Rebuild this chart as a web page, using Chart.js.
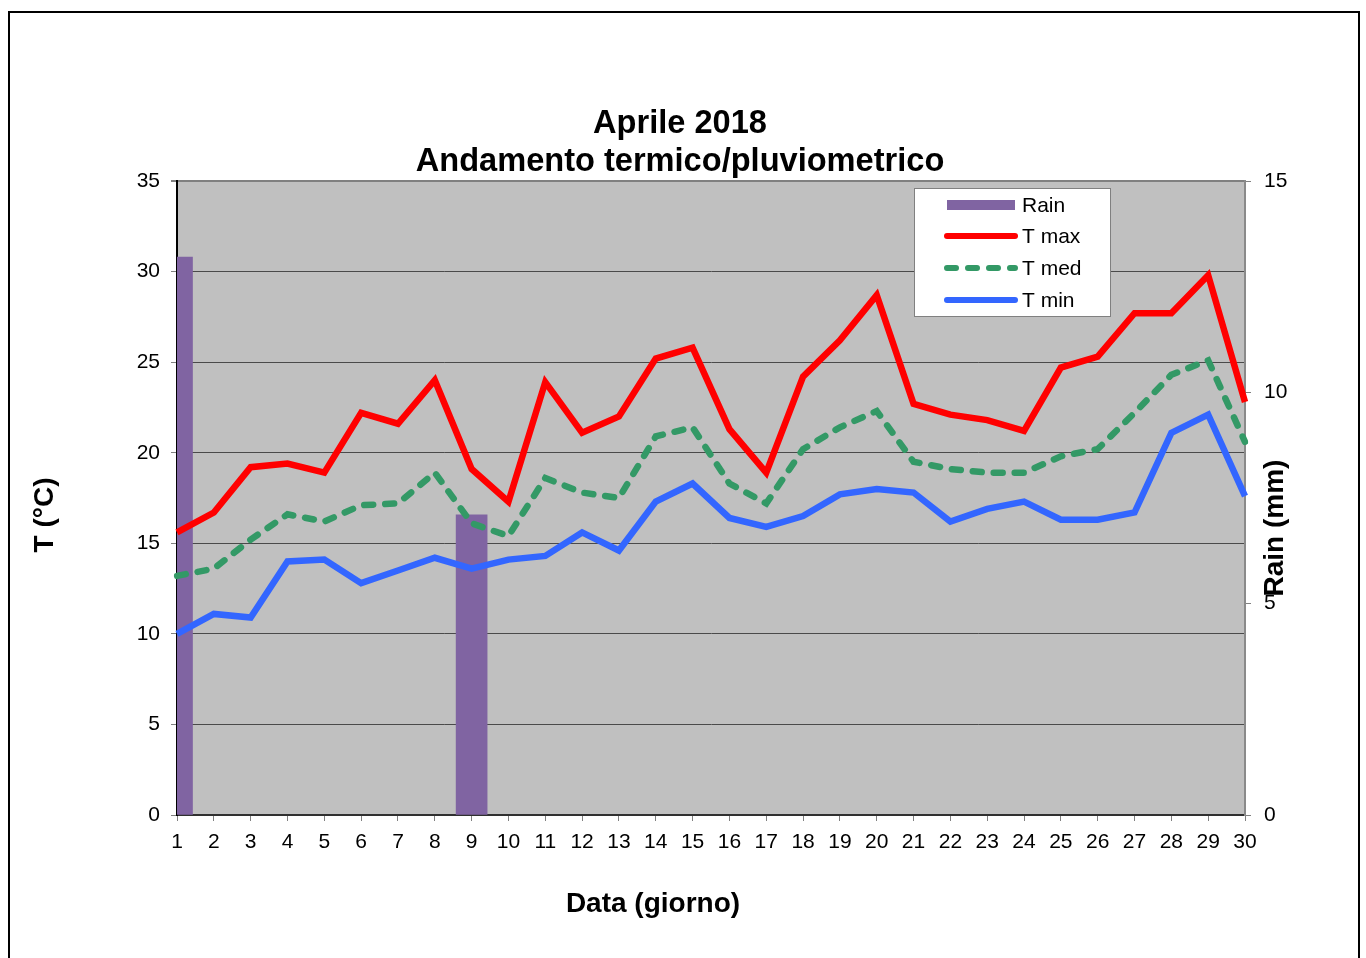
<!DOCTYPE html>
<html>
<head>
<meta charset="utf-8">
<script src="https://cdn.jsdelivr.net/npm/chart.js@4/dist/chart.umd.min.js"></script>
<style>
html,body{margin:0;padding:0;background:#fff;}
#wrap{position:relative;width:1366px;height:958px;}
</style>
</head>
<body>
<div id="wrap"><canvas id="c" width="1366" height="958"></canvas></div>
<script>
// ---- data ----
const days = ['1','2','3','4','5','6','7','8','9','10','11','12','13','14','15','16','17','18','19','20','21','22','23','24','25','26','27','28','29','30'];
const rain = [13.2,null,null,null,null,null,null,null,7.1,null,null,null,null,null,null,null,null,null,null,null,null,null,null,null,null,null,null,null,null,null];
const tMax = [15.6,16.7,19.2,19.4,18.9,22.2,21.6,24.0,19.1,17.3,23.9,21.1,22.0,25.2,25.8,21.3,18.9,24.2,26.2,28.7,22.7,22.1,21.8,21.2,24.7,25.3,27.7,27.7,29.8,22.8];
const tMed = [13.2,13.6,15.2,16.6,16.2,17.1,17.2,18.9,16.1,15.4,18.6,17.8,17.5,20.9,21.4,18.3,17.2,20.2,21.4,22.3,19.5,19.1,18.9,18.9,19.8,20.2,22.2,24.3,25.1,20.6];
const tMin = [10.0,11.1,10.9,14.0,14.1,12.8,13.5,14.2,13.6,14.1,14.3,15.6,14.6,17.3,18.3,16.4,15.9,16.5,17.7,18.0,17.8,16.2,16.9,17.3,16.3,16.3,16.7,21.1,22.1,17.6];
const seriesNames = ['Rain','T max','T med','T min'];
const titleLines = ['Aprile 2018','Andamento termico/pluviometrico'];
const xTitle = 'Data (giorno)';
const yTitle = 'T (°C)';
const y2Title = 'Rain (mm)';
const tempRange = [0, 35, 5];
const rainRange = [0, 15, 5];

const FONT = "'Liberation Sans', Arial, Helvetica, sans-serif";
Chart.defaults.font.family = FONT;
Chart.defaults.font.size = 21;
Chart.defaults.color = '#000';

const decor = {
  id: 'decor',
  beforeDraw(chart) {
    const {ctx, chartArea: a} = chart;
    ctx.save();
    ctx.fillStyle = '#fff';
    ctx.fillRect(0, 0, chart.width, chart.height);
    ctx.strokeStyle = '#000';
    ctx.lineWidth = 2;
    ctx.strokeRect(9, 12, 1350, 1000);
    ctx.fillStyle = '#C0C0C0';
    ctx.fillRect(a.left, a.top, a.right - a.left, a.bottom - a.top);
    ctx.restore();
  },
  afterDraw(chart) {
    const ctx = chart.ctx;
    ctx.save();
    ctx.fillStyle = '#000';
    ctx.font = "bold 28px " + FONT;
    ctx.textAlign = 'center';
    ctx.textBaseline = 'middle';
    ctx.fillText(xTitle, 653, 904);
    ctx.save();
    ctx.translate(45, 515);
    ctx.rotate(-Math.PI / 2);
    ctx.fillText(yTitle, 0, 0);
    ctx.restore();
    ctx.save();
    ctx.translate(1275, 528);
    ctx.rotate(-Math.PI / 2);
    ctx.fillText(y2Title, 0, 0);
    ctx.restore();

    // legend box
    const bx = 914, by = 188, bw = 196, bh = 128;
    ctx.fillStyle = '#fff';
    ctx.fillRect(bx, by, bw, bh);
    ctx.strokeStyle = '#808080';
    ctx.lineWidth = 1;
    ctx.strokeRect(bx + 0.5, by + 0.5, bw, bh);
    const rows = [205, 236, 268, 300];
    const ds = chart.data.datasets;
    ctx.font = "21px " + FONT;
    ctx.textAlign = 'left';
    ds.forEach((d, i) => {
      const y = rows[i];
      if (d.type === 'bar') {
        ctx.fillStyle = d.backgroundColor;
        ctx.fillRect(947, y - 5, 68, 10);
      } else {
        ctx.strokeStyle = d.borderColor;
        ctx.lineWidth = 6;
        ctx.lineCap = 'round';
        ctx.setLineDash(d.borderDash || []);
        ctx.beginPath();
        ctx.moveTo(947, y);
        ctx.lineTo(1015, y);
        ctx.stroke();
        ctx.setLineDash([]);
      }
      ctx.fillStyle = '#000';
      ctx.fillText(d.label, 1022, y + 1);
    });
    ctx.restore();
  }
};

const lineDs = (label, data, color, dash, order) => ({
  type: 'line', label, data, yAxisID: 'y', xAxisID: 'x',
  borderColor: color, backgroundColor: color, borderWidth: 6.5,
  borderDash: dash, borderCapStyle: dash.length ? 'round' : 'butt',
  pointRadius: 0, tension: 0, fill: false, order
});

new Chart(document.getElementById('c'), {
  data: {
    labels: days,
    datasets: [
      { type: 'bar', label: seriesNames[0], data: rain, yAxisID: 'y1', xAxisID: 'x',
        backgroundColor: '#8064A2', barThickness: 31, order: 5 },
      lineDs(seriesNames[1], tMax, '#FF0000', [], 1),
      lineDs(seriesNames[2], tMed, '#339966', [9, 12], 2),
      lineDs(seriesNames[3], tMin, '#3366FF', [], 3)
    ]
  },
  options: {
    responsive: false,
    animation: false,
    events: [],
    layout: { padding: { left: 0, right: 6, top: 0, bottom: 0 } },
    plugins: {
      legend: { display: false },
      tooltip: { enabled: false },
      title: {
        display: true, text: titleLines, color: '#000',
        font: { family: FONT, size: 32.6, weight: 'bold', lineHeight: 38 / 32.6 },
        padding: { top: 105, bottom: 0 }
      }
    },
    scales: {
      x: {
        type: 'category', offset: false,
        grid: { offset: false, drawOnChartArea: false, drawTicks: true, tickLength: 6, tickColor: '#808080' },
        border: { color: '#303030', width: 2 },
        ticks: { autoSkip: false, maxRotation: 0, minRotation: 0, padding: 9, color: '#000', font: { size: 21 } },
        afterFit(s) { s.height = 143; }
      },
      y: {
        position: 'left', min: tempRange[0], max: tempRange[1],
        ticks: { stepSize: tempRange[2], padding: 11, color: '#000', font: { size: 21 } },
        grid: {
          color: c => (c.tick && c.tick.value === tempRange[1]) ? '#808080' : '#4a4a4a',
          lineWidth: c => (c.tick && c.tick.value === tempRange[1]) ? 2 : 1,
          tickLength: 6, tickColor: '#808080', drawTicks: true
        },
        border: { color: '#000', width: 2 },
        afterFit(s) { s.width = 177; }
      },
      y1: {
        position: 'right', min: rainRange[0], max: rainRange[1],
        ticks: { stepSize: rainRange[2], padding: 13, color: '#000', font: { size: 21 } },
        grid: { drawOnChartArea: false, tickLength: 6, tickColor: '#808080' },
        border: { color: '#8a8a8a', width: 2 },
        afterFit(s) { s.width = 1366 - 6 - 1245; }
      }
    }
  },
  plugins: [decor]
});
</script>
</body>
</html>
